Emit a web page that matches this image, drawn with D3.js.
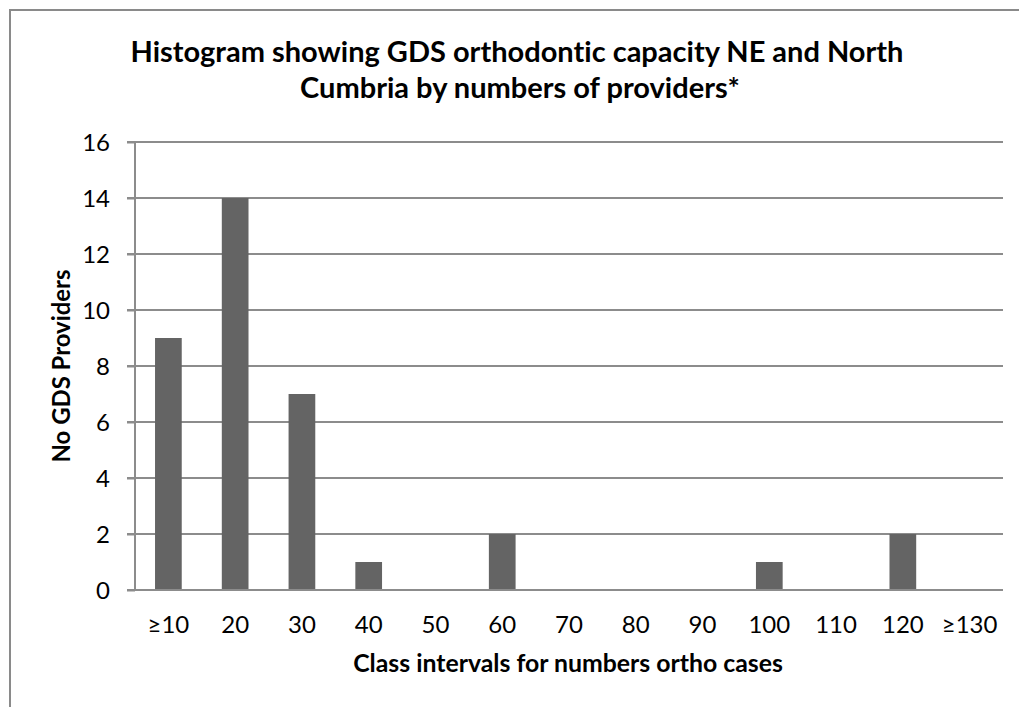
<!DOCTYPE html>
<html><head><meta charset="utf-8">
<script src="https://cdn.jsdelivr.net/npm/d3@7"></script>
<style>body{margin:0;background:#fff;} svg{display:block;} text{font-variant-ligatures:none;font-feature-settings:"liga" 0;}</style>
</head><body>
<svg id="c" width="1019" height="707"></svg>
<script>
const categories = ["≥10","20","30","40","50","60","70","80","90","100","110","120","≥130"];
const providers = [9,14,7,1,0,2,0,0,0,1,0,2,0];
const yTicks = [0,2,4,6,8,10,12,14,16];
const titleLines = ["Histogram showing GDS orthodontic capacity NE and North","Cumbria by numbers of providers*"];
const xTitle = "Class intervals for numbers ortho cases";
const yTitle = "No GDS Providers";

const FONT = "Lato, 'Open Sans', sans-serif";
const svg = d3.select("#c");
const m = {left:135, right:1003, top:142, bottom:590};

svg.append("rect").attr("x",10).attr("y",10).attr("width",1100).attr("height",800)
  .attr("fill","#fff").attr("stroke","#8a8a8a").attr("stroke-width",2);

const x = d3.scaleBand().domain(categories).range([m.left,m.right]).paddingInner(0.6).paddingOuter(0.3);
const y = d3.scaleLinear().domain([0,16]).range([m.bottom,m.top]);

function fit(sel, target){
  const w = sel.node().getComputedTextLength();
  const fs = parseFloat(sel.attr("font-size"));
  sel.attr("font-size", fs*target/w);
}

// gridlines
svg.append("g").selectAll("line").data(yTicks.filter(d=>d>0)).join("line")
  .attr("x1",127).attr("x2",m.right).attr("y1",d=>y(d)).attr("y2",d=>y(d))
  .attr("stroke","#8c8c8c").attr("stroke-width",2);

// bars
svg.append("g").selectAll("rect").data(providers).join("rect")
  .attr("x",(d,i)=>x(categories[i])).attr("width",x.bandwidth())
  .attr("y",d=>y(d)).attr("height",d=>y(0)-y(d)).attr("fill","#646464");

// axes
const yAxis = svg.append("g").attr("transform",`translate(${m.left},0)`)
  .call(d3.axisLeft(y).tickValues(yTicks).tickSize(8).tickPadding(17).tickFormat(d3.format("d")));
yAxis.select(".domain").attr("stroke","#8c8c8c").attr("stroke-width",2).attr("d",`M0,${m.top}V${m.bottom}`);
yAxis.selectAll(".tick line").attr("stroke","#8c8c8c").attr("stroke-width",2);
yAxis.selectAll("text").attr("font-family",FONT).attr("font-size",24).attr("fill","#000").attr("dy","0.36em");

const xAxis = svg.append("g").attr("transform",`translate(0,${m.bottom})`)
  .call(d3.axisBottom(x).tickSize(0).tickPadding(0));
xAxis.select(".domain").attr("stroke","#8c8c8c").attr("stroke-width",2).attr("d",`M127,0H${m.right}`);
xAxis.selectAll("text").attr("font-family",FONT).attr("font-size",24).attr("fill","#000").attr("dy",null).attr("y",43);

// titles
const t = svg.append("text").attr("text-anchor","middle").attr("font-family",FONT).attr("font-weight","bold").attr("fill","#000");
const t1 = t.append("tspan").attr("x",517).attr("y",62).attr("font-size",26).text(titleLines[0]);
fit(t1, 773);
const fsT = t1.attr("font-size");
t.append("tspan").attr("x",520).attr("y",98).attr("font-size",fsT).text(titleLines[1]);

const xl = svg.append("text").attr("x",568).attr("y",672).attr("text-anchor","middle")
  .attr("font-family",FONT).attr("font-weight","bold").attr("font-size",20).attr("fill","#000").text(xTitle);
fit(xl, 430);

const yl = svg.append("text").attr("transform","translate(70,366) rotate(-90)").attr("text-anchor","middle")
  .attr("font-family",FONT).attr("font-weight","bold").attr("font-size",20).attr("fill","#000").text(yTitle);
fit(yl, 193);
</script>
</body></html>
